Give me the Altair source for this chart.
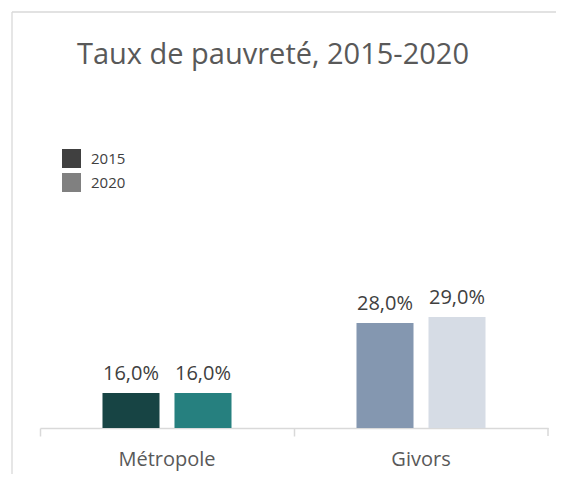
import altair as alt
import pandas as pd

# ---- data ----
categories = ["Métropole", "Givors"]
years = ["2015", "2020"]
values_2015 = [16.0, 28.0]
values_2020 = [16.0, 29.0]

# ---- styles (kept apart from data) ----
bar_colors = ["#174444", "#26807F", "#8497B0", "#D6DCE5"]  # Métropole 2015/2020, Givors 2015/2020
legend_colors = ["#404040", "#808080"]
FONT = "Open Sans"
GRID = "#D9D9D9"

rows = []
for i, c in enumerate(categories):
    for y, vals in zip(years, [values_2015, values_2020]):
        v = vals[i]
        rows.append({
            "region": c,
            "year": y,
            "value": v,
            "key": f"{c}|{y}",
            "label": f"{v:.1f}".replace(".", ",") + "%",
        })
df = pd.DataFrame(rows)
keys = [f"{c}|{y}" for c in categories for y in years]

base = alt.Chart(df).encode(
    x=alt.X(
        "region:N",
        sort=categories,
        scale=alt.Scale(paddingInner=0, paddingOuter=0),
        axis=alt.Axis(
            title=None,
            labelAngle=0,
            bandPosition=0,
            domainColor=GRID,
            domainWidth=1.5,
            tickColor=GRID,
            tickWidth=1.5,
            tickSize=8,
            labelFont=FONT,
            labelFontSize=20,
            labelColor="#595959",
            labelPadding=13,
        ),
    ),
    xOffset=alt.XOffset("year:N", sort=years,
                        scale=alt.Scale(paddingInner=0.208, paddingOuter=0.868)),
)

y_scale = alt.Scale(domain=[10, 35], zero=False, nice=False)

bars = base.mark_bar().encode(
    y=alt.Y("value:Q", scale=y_scale, axis=None),
    y2=alt.datum(10),
    fill=alt.Fill("key:N", scale=alt.Scale(domain=keys, range=bar_colors), legend=None),
)

legend_layer = base.mark_bar().encode(
    y=alt.Y("value:Q", scale=y_scale, axis=None),
    y2=alt.Y2("value"),
    color=alt.Color(
        "year:N",
        sort=years,
        scale=alt.Scale(domain=years, range=legend_colors),
        legend=alt.Legend(
            title=None,
            orient="none",
            legendX=22,
            legendY=-133,
            symbolType="square",
            symbolSize=361,
            symbolStrokeWidth=0,
            labelFont=FONT,
            labelFontSize=15,
            labelColor="#404040",
            labelOffset=10,
            rowPadding=5,
            padding=0,
        ),
    ),
)

labels = base.mark_text(
    baseline="alphabetic", dy=-13, font=FONT, fontSize=20, color="#404040"
).encode(
    y=alt.Y("value:Q", scale=y_scale, axis=None),
    text="label:N",
)

one = pd.DataFrame({"a": [0]})
frame_v = alt.Chart(one).mark_rule(color=GRID, strokeWidth=1.3).encode(
    x=alt.value(-28), y=alt.value(-270), y2=alt.value(250)
)
frame_h = alt.Chart(one).mark_rule(color=GRID, strokeWidth=1.3).encode(
    x=alt.value(-28), x2=alt.value(600), y=alt.value(-270)
)
end_tick = alt.Chart(one).mark_rule(color=GRID, strokeWidth=1.5).encode(
    x=alt.value(508), y=alt.value(146), y2=alt.value(154)
)

chart = (
    alt.layer(frame_v, frame_h, bars, legend_layer, labels, end_tick)
    .properties(
        width=508,
        height=146,
        autosize=alt.AutoSizeParams(type="none"),
        padding={"left": 32, "top": 274, "right": 8, "bottom": 46},
        title=alt.Title(
            "Taux de pauvreté, 2015-2020",
            font=FONT,
            fontSize=29,
            fontWeight="normal",
            color="#595959",
            anchor="middle",
            dx=-21,
            baseline="alphabetic",
            offset=-82,
        ),
    )
    .configure_view(stroke=None)
)

chart.save("out.html", embed_options={"renderer": "svg", "actions": False})
